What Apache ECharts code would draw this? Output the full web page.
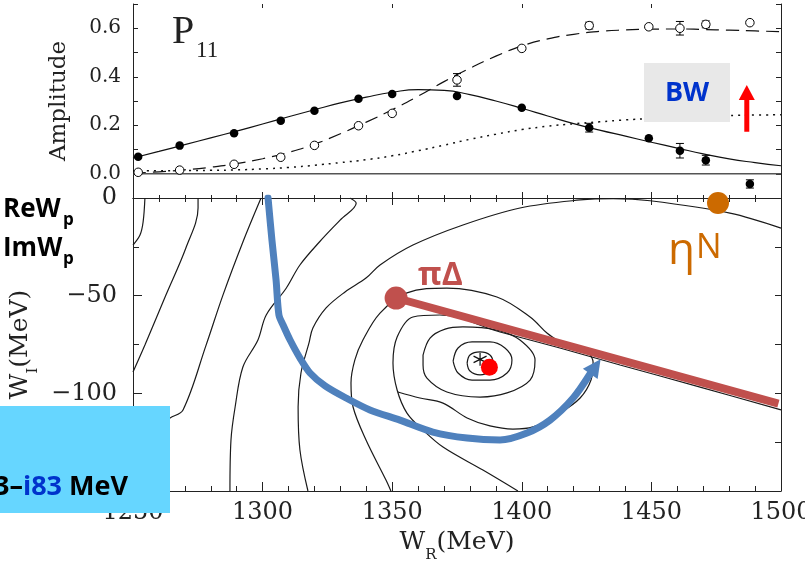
<!DOCTYPE html>
<html>
<head>
<meta charset="utf-8">
<script src="https://cdn.jsdelivr.net/npm/echarts@6/dist/echarts.min.js"></script>
<style>
html,body{margin:0;padding:0;background:#fff}
#main{width:805px;height:561px}
</style>
</head>
<body>
<div id="main"></div>
<script>
// ---- upper panel: P11 amplitude ----
var energyPts = [1252, 1268, 1289, 1307, 1320, 1337, 1350, 1375, 1400, 1426, 1449, 1461, 1471, 1488];
var filledAmp = [0.070, 0.116, 0.167, 0.219, 0.260, 0.309, 0.329, 0.321, 0.272, 0.190, 0.146, 0.095, 0.056, -0.042];
var filledErr = [0, 0, 0, 0, 0, 0, 0, 0, 0, 0.018, 0, 0.030, 0.020, 0.017];
var openAmp = [0.006, 0.015, 0.039, 0.068, 0.117, 0.198, 0.249, 0.387, 0.517, 0.611, 0.606, 0.600, 0.616, 0.623];
var openErr = [0, 0, 0, 0, 0, 0, 0, 0.026, 0, 0.014, 0, 0.028, 0.014, 0];

var fitE = [1250, 1260, 1270, 1280, 1290, 1300, 1310, 1320, 1330, 1340, 1350, 1360, 1370,
            1380, 1390, 1400, 1410, 1420, 1430, 1440, 1450, 1460, 1470, 1480, 1490, 1500];
var fitSolid = [0.065, 0.092, 0.120, 0.148, 0.176, 0.205, 0.235, 0.264, 0.292, 0.316, 0.336, 0.347, 0.344,
                0.326, 0.300, 0.270, 0.238, 0.207, 0.180, 0.155, 0.130, 0.106, 0.082, 0.061, 0.046, 0.033];
var fitDashed = [0.003, 0.008, 0.016, 0.027, 0.042, 0.062, 0.088, 0.122, 0.165, 0.213, 0.264, 0.320, 0.380,
                 0.435, 0.485, 0.527, 0.556, 0.575, 0.587, 0.593, 0.596, 0.597, 0.595, 0.592, 0.589, 0.586];
var fitDotted = [0.012, 0.012, 0.013, 0.014, 0.016, 0.020, 0.026, 0.035, 0.046, 0.058, 0.074, 0.095, 0.118,
                 0.142, 0.163, 0.182, 0.196, 0.206, 0.214, 0.222, 0.228, 0.233, 0.237, 0.240, 0.242, 0.243];

// ---- lower panel: contours in (W_R, W_I) ----
var contour1 = [[1254.6, 0], [1253.9, -12.3], [1252.7, -19], [1250, -24.1]];
var contour2 = [[1275.1, 0], [1275.1, -5.1], [1270.4, -25.6], [1262.7, -49.7], [1254.6, -75.3], [1250, -89.1]];
var contour3 = [[1299.4, 0], [1292.4, -22.5], [1284.7, -49.7], [1278.2, -75.3], [1269.3, -108.5], [1264.3, -112.6], [1258, -118]];
var contour4 = [[1333.7, 0], [1336.1, -2.7], [1329.9, -11.3], [1322, -22.4], [1314.4, -34.3], [1309.1, -46.2],
                [1301.4, -59.9], [1298.2, -72.7], [1292.4, -86.5], [1289.4, -107], [1287.8, -123.9], [1287.4, -150]];
var contour5 = [[1317.5, -150], [1314.4, -129], [1313.7, -107], [1314.8, -89.6], [1317.9, -74.2], [1319.4, -66.6],
                [1324.5, -56.3], [1331.8, -48.1], [1339.9, -41], [1345.3, -34.3], [1358, -24.1], [1377.3, -13.8],
                [1399.3, -5.1], [1422.5, -1], [1435.2, -0.3], [1449.5, -1.4], [1480.3, -7.7], [1500, -15.4]];
var contour6 = [[1349.5, -150], [1347.6, -144.4], [1339.9, -123.9], [1334.9, -107], [1334.1, -94.7], [1335.6, -82.9],
                [1338.7, -72.7], [1345.3, -58.9], [1355.7, -48.6], [1371.1, -46.1], [1390.4, -50.7], [1403.2, -60.9],
                [1409.7, -69.1], [1414.7, -73.7]];
var contour7 = [[1500, -108.5], [1468.8, -96.8], [1437.9, -85.5], [1414.7, -76.8], [1391.6, -68.6], [1368.4, -59.9],
                [1358, -60.9], [1351.9, -71.2], [1350.3, -84.5], [1351.9, -98.3], [1355.7, -110.1], [1361.9, -118.8],
                [1369.6, -127.5], [1385, -139.3], [1398.5, -150]];
var contour8 = [[1352.2, -99.3], [1360.7, -102.4], [1369.6, -105], [1378.9, -112.6], [1387.7, -116.7], [1396.6, -118.3],
                [1404.3, -117.2], [1414.7, -110.1], [1422.5, -102.4], [1426.7, -93.2], [1427.5, -84], [1425.5, -78.8]];
var ring1 = [[1378.9, -84.5], [1380.0, -80.4], [1383.9, -78.8], [1387.7, -80.4], [1388.9, -84.5], [1387.7, -88.6],
             [1383.9, -90.6], [1380.0, -88.6], [1378.9, -84.5]];
var ring2 = [[1373.5, -83.5], [1375.4, -76.8], [1380.8, -73.7], [1387.7, -73.7], [1393.5, -76.8], [1396.2, -82.9],
             [1394.3, -89.6], [1387.7, -93.2], [1380.8, -93.2], [1375.4, -89.6], [1373.5, -83.5]];
var ring3 = [[1361.9, -80.4], [1364.6, -71.7], [1370.4, -67.1], [1377.3, -66.0], [1390.4, -67.6], [1399.3, -72.7],
             [1405.1, -82.9], [1403.2, -93.2], [1394.3, -99.8], [1383.9, -101.9], [1371.1, -99.3], [1363.4, -92.2],
             [1361.9, -85.5], [1361.9, -80.4]];

var poleStar = [1383.9, -82.6];
var poleDot = [1387.5, -86.7];
var piDeltaPt = [1351.5, -51.2];
var piDeltaCut = [[1351.5, -51.2], [1499, -105.3]];
var etaNPt = [1475.7, -2.6];
var bluePath = [[1302.1, 0], [1303.6, -21.5], [1305.2, -42], [1306.3, -59.9], [1307.9, -65], [1310.6, -72.7],
                [1314.4, -81.9], [1318.3, -89.6], [1324.1, -96.2], [1332.2, -102.4], [1341.4, -108.5],
                [1353, -113.7], [1365.7, -119.8], [1378.9, -122.9], [1391.6, -123.9], [1402, -120.3],
                [1410.9, -113.7], [1419.8, -102.4], [1426.3, -90.1]];
var blueHead = [1428.4, -86.3];
var bwArrow = [[1486.8, 0.173], [1486.8, 0.305]];
var bwHead = [1486.8, 0.335];

var serif = 'DejaVu Serif';
var sans = '"Open Sans"';
var ink = '#222';

function pairs(xs, ys) {
    return xs.map(function (x, i) { return [x, ys[i]]; });
}
function withErr(xs, ys, es) {
    var out = [];
    xs.forEach(function (x, i) { if (es[i] > 0) out.push([x, ys[i], es[i]]); });
    return out;
}
function errorBar(params, api) {
    var x = api.value(0), y = api.value(1), e = api.value(2);
    var hi = api.coord([x, y + e]), lo = api.coord([x, y - e]);
    var w = 4, st = { stroke: '#000', lineWidth: 1 };
    return {
        type: 'group',
        children: [
            { type: 'line', shape: { x1: hi[0], y1: hi[1], x2: lo[0], y2: lo[1] }, style: st },
            { type: 'line', shape: { x1: hi[0] - w, y1: hi[1], x2: hi[0] + w, y2: hi[1] }, style: st },
            { type: 'line', shape: { x1: lo[0] - w, y1: lo[1], x2: lo[0] + w, y2: lo[1] }, style: st }
        ]
    };
}

var tickStyle = { color: ink, width: 1 };
function xAxisDef(grid, pos, labels, major, minor) {
    return {
        gridIndex: grid, type: 'value', position: pos, min: 1250, max: 1500, interval: 50,
        axisLine: { show: pos === 'bottom' || grid === 1, onZero: false, lineStyle: { color: ink, width: 1 } },
        axisTick: { show: true, inside: true, length: major, lineStyle: tickStyle },
        minorTick: { show: minor > 0, splitNumber: 5, length: minor, lineStyle: tickStyle },
        axisLabel: {
            show: labels, fontFamily: serif, fontSize: 24, color: ink, margin: 10,
            formatter: function (v) { return String(v); }
        },
        splitLine: { show: false }, minorSplitLine: { show: false }
    };
}

var contourSeries = [contour1, contour2, contour3, contour4, contour5, contour6, contour7, contour8, ring1, ring2, ring3]
    .map(function (c) {
        return {
            type: 'line', xAxisIndex: 2, yAxisIndex: 2, data: c, smooth: 0.35, showSymbol: false,
            lineStyle: { color: '#1a1a1a', width: 1.2 }, z: 2, silent: true
        };
    });

var option = {
    animation: false,
    backgroundColor: '#fff',
    grid: [
        { left: 133, right: 24, top: 4, height: 194, outerBoundsMode: 'none', containLabel: false },
        { left: 133, right: 24, top: 198, height: 293, outerBoundsMode: 'none', containLabel: false }
    ],
    xAxis: [
        xAxisDef(0, 'bottom', false, 6, 3),
        xAxisDef(0, 'top', false, 4, 0),
        Object.assign(xAxisDef(1, 'bottom', true, 9, 5), {
            name: '{w|W}{s|R}{w|(MeV)}', nameLocation: 'middle', nameGap: 28,
            nameTextStyle: {
                rich: {
                    w: { fontFamily: serif, fontSize: 25, color: ink, lineHeight: 40 },
                    s: { fontFamily: serif, fontSize: 15, color: ink, lineHeight: 14, verticalAlign: 'bottom' }
                }
            }
        }),
        xAxisDef(1, 'top', false, 7, 4)
    ],
    yAxis: [
        {
            gridIndex: 0, type: 'value', position: 'left', min: -0.1, max: 0.7, interval: 0.1,
            axisLine: { show: true, onZero: false, lineStyle: { color: ink } },
            axisTick: { show: true, inside: true, length: 5, lineStyle: tickStyle },
            axisLabel: {
                fontFamily: serif, fontSize: 20, color: ink, margin: 12,
                formatter: function (v) {
                    var k = Math.round(v * 10);
                    return (k >= 0 && k % 2 === 0) ? (k / 10).toFixed(1) : '';
                }
            },
            splitLine: { show: false },
            name: 'Amplitude', nameLocation: 'middle', nameRotate: 90, nameGap: 62,
            nameTextStyle: { fontFamily: serif, fontSize: 23, color: ink }
        },
        {
            gridIndex: 0, type: 'value', position: 'right', min: -0.1, max: 0.7, interval: 0.1,
            axisLine: { show: true, onZero: false, lineStyle: { color: ink } },
            axisTick: { show: true, inside: true, length: 5, lineStyle: tickStyle },
            axisLabel: { show: false }, splitLine: { show: false }
        },
        {
            gridIndex: 1, type: 'value', position: 'left', min: -150, max: 0, interval: 50,
            axisLine: { show: true, onZero: false, lineStyle: { color: ink } },
            axisTick: { show: true, inside: true, length: 9, lineStyle: tickStyle },
            minorTick: { show: true, splitNumber: 2, length: 6, lineStyle: tickStyle },
            axisLabel: {
                fontFamily: serif, fontSize: 24, color: ink, margin: 16,
                formatter: function (v) { return v < 0 ? '\u2212' + (-v) : String(v); }
            },
            splitLine: { show: false }, minorSplitLine: { show: false },
            name: '{w|W}{s|I}{w|(MeV)}', nameLocation: 'middle', nameRotate: 90, nameGap: 88,
            nameTextStyle: {
                rich: {
                    w: { fontFamily: serif, fontSize: 25, color: ink, lineHeight: 40 },
                    s: { fontFamily: serif, fontSize: 15, color: ink, lineHeight: 14, verticalAlign: 'bottom' }
                }
            }
        },
        {
            gridIndex: 1, type: 'value', position: 'right', min: -150, max: 0, interval: 50,
            axisLine: { show: true, onZero: false, lineStyle: { color: ink } },
            axisTick: { show: true, inside: true, length: 6, lineStyle: tickStyle },
            minorTick: { show: true, splitNumber: 2, length: 6, lineStyle: tickStyle },
            axisLabel: { show: false }, splitLine: { show: false }, minorSplitLine: { show: false }
        }
    ],
    graphic: [
        { type: 'text', x: 172, y: 32, z: 50, style: { text: 'P', font: '40px "Liberation Serif"', fill: ink, verticalAlign: 'middle' } },
        { type: 'text', x: 196, y: 51, z: 50, style: { text: '11', font: '23px "Liberation Serif"', fill: ink, verticalAlign: 'middle' } },
        { type: 'rect', shape: { x: 644, y: 63, width: 86, height: 59 }, style: { fill: '#e8e8e8' }, z: 100 },
        { type: 'text', x: 687, y: 93, z: 101, style: { text: 'BW', font: 'bold 27px ' + sans, fill: '#0033cc', align: 'center', verticalAlign: 'middle' } },
        { type: 'text', x: 3, y: 210, z: 101, style: { text: 'ReW', font: 'bold 26px ' + sans, fill: '#000', verticalAlign: 'middle' } },
        { type: 'text', x: 63, y: 220, z: 101, style: { text: 'p', font: 'bold 17px ' + sans, fill: '#000', verticalAlign: 'middle' } },
        { type: 'text', x: 3, y: 249, z: 101, style: { text: 'ImW', font: 'bold 26px ' + sans, fill: '#000', verticalAlign: 'middle' } },
        { type: 'text', x: 63, y: 259, z: 101, style: { text: 'p', font: 'bold 17px ' + sans, fill: '#000', verticalAlign: 'middle' } },
        { type: 'text', x: 418, y: 276, z: 101, style: { text: 'πΔ', font: 'bold 32px ' + sans, fill: '#c0504d', verticalAlign: 'middle' } },
        { type: 'text', x: 668, y: 251, z: 101, style: { text: 'η', font: '44px ' + sans, fill: '#cc6a00', verticalAlign: 'middle' } },
        { type: 'text', x: 696, y: 248, z: 101, style: { text: 'N', font: '34px ' + sans, fill: '#cc6a00', verticalAlign: 'middle' } },
        { type: 'rect', shape: { x: 0, y: 406, width: 170, height: 107 }, style: { fill: '#66d6ff' }, z: 100 },
        {
            type: 'text', x: 128, y: 487, z: 101,
            style: {
                text: '{k|1363–}{b|i83}{k| MeV}', align: 'right', verticalAlign: 'middle',
                rich: {
                    k: { font: 'bold 27px ' + sans, fill: '#000' },
                    b: { font: 'bold 27px ' + sans, fill: '#0033cc' }
                }
            }
        }
    ],
    series: [
        {
            type: 'line', xAxisIndex: 0, yAxisIndex: 0, data: [[1250, 0], [1500, 0]], showSymbol: false,
            lineStyle: { color: '#555', width: 1.5 }, z: 1, silent: true
        },
        {
            type: 'line', xAxisIndex: 0, yAxisIndex: 0, data: pairs(fitE, fitSolid), smooth: true, showSymbol: false,
            lineStyle: { color: '#111', width: 1.2 }, z: 2
        },
        {
            type: 'line', xAxisIndex: 0, yAxisIndex: 0, data: pairs(fitE, fitDashed), smooth: true, showSymbol: false,
            lineStyle: { color: '#111', width: 1.2, type: [13, 7] }, z: 2
        },
        {
            type: 'line', xAxisIndex: 0, yAxisIndex: 0, data: pairs(fitE, fitDotted), smooth: true, showSymbol: false,
            lineStyle: { color: '#111', width: 1.5, type: [2, 5] }, z: 2
        },
        {
            type: 'custom', xAxisIndex: 0, yAxisIndex: 0, renderItem: errorBar,
            data: withErr(energyPts, filledAmp, filledErr).concat(withErr(energyPts, openAmp, openErr)),
            encode: { x: 0, y: 1 }, z: 3
        },
        {
            type: 'scatter', xAxisIndex: 0, yAxisIndex: 0, data: pairs(energyPts, filledAmp), symbol: 'circle', symbolSize: 8.5,
            itemStyle: { color: '#000', opacity: 1 }, z: 4
        },
        {
            type: 'scatter', xAxisIndex: 0, yAxisIndex: 0, data: pairs(energyPts, openAmp), symbol: 'circle', symbolSize: 8.5,
            itemStyle: { color: '#fff', borderColor: '#000', borderWidth: 1, opacity: 1 }, z: 4
        },
        {
            type: 'line', xAxisIndex: 0, yAxisIndex: 0, data: bwArrow, showSymbol: false,
            lineStyle: { color: '#ff0000', width: 5 }, z: 10
        },
        {
            type: 'scatter', xAxisIndex: 0, yAxisIndex: 0, data: [bwHead], symbol: 'triangle', symbolSize: [16, 15],
            itemStyle: { color: '#ff0000', opacity: 1 }, z: 10
        }
    ].concat(contourSeries).concat([
        {
            type: 'line', xAxisIndex: 2, yAxisIndex: 2, data: piDeltaCut, showSymbol: false,
            lineStyle: { color: '#c0504d', width: 8 }, z: 5
        },
        {
            type: 'line', xAxisIndex: 2, yAxisIndex: 2, data: bluePath, smooth: 0.3, showSymbol: false,
            lineStyle: { color: '#4f81bd', width: 7, cap: 'round', join: 'round' }, z: 6
        },
        {
            type: 'scatter', xAxisIndex: 2, yAxisIndex: 2, data: [blueHead], symbol: 'triangle', symbolSize: [18, 18],
            symbolRotate: -35, itemStyle: { color: '#4f81bd', opacity: 1 }, z: 6
        },
        {
            type: 'scatter', xAxisIndex: 2, yAxisIndex: 2, data: [poleStar], symbol: 'path://M0,-6L0,6M-5.2,-3L5.2,3M-5.2,3L5.2,-3',
            symbolSize: 13, itemStyle: { color: 'none', borderColor: '#111', borderWidth: 1.2, opacity: 1 }, z: 7
        },
        {
            type: 'scatter', xAxisIndex: 2, yAxisIndex: 2, data: [poleDot], symbol: 'circle', symbolSize: 17,
            itemStyle: { color: '#ff0000', opacity: 1 }, z: 8
        },
        {
            type: 'scatter', xAxisIndex: 2, yAxisIndex: 2, data: [piDeltaPt], symbol: 'circle', symbolSize: 23,
            itemStyle: { color: '#c0504d', opacity: 1 }, z: 8
        },
        {
            type: 'scatter', xAxisIndex: 2, yAxisIndex: 2, data: [etaNPt], symbol: 'circle', symbolSize: 22,
            itemStyle: { color: '#cc6a00', opacity: 1 }, z: 8, clip: false
        }
    ])
};

var chart = echarts.init(document.getElementById('main'));
chart.setOption(option);
</script>
</body>
</html>
